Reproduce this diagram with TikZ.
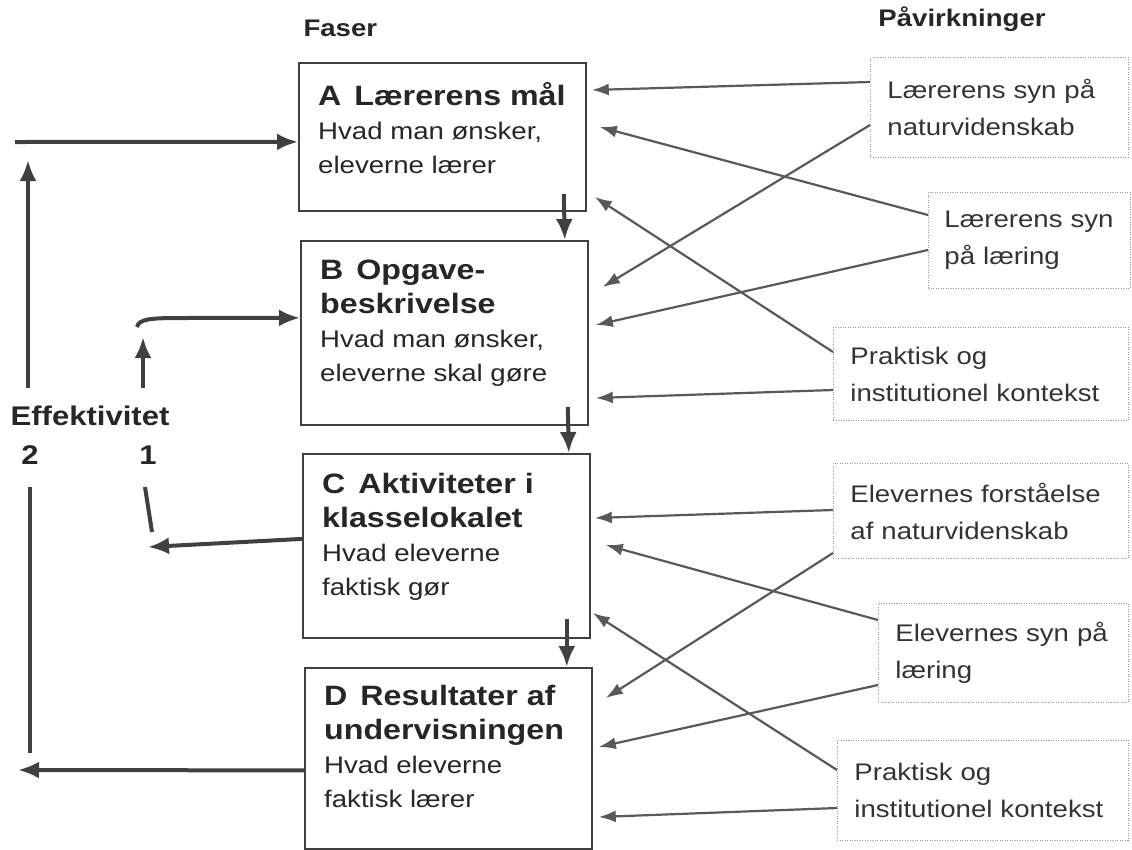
\documentclass[tikz,border=0pt]{standalone}
\usepackage{fontspec}
\setmainfont{Liberation Sans}[FakeStretch=1.15]
\usetikzlibrary{arrows.meta,calc}

\newcommand{\phb}[1]{{\fontsize{28}{34}\selectfont\bfseries #1}}

\begin{document}
\begin{tikzpicture}[x=1pt, y=-1pt,
    phase/.style={rectangle, draw=black!75, line width=1.8pt, anchor=north west, inner sep=0pt, minimum width=287pt},
    phtext/.style={anchor=north west, inner sep=0pt, align=left, font=\fontsize{24}{34}\selectfont, text=black!85},
    infl/.style={rectangle, draw=black!40, dash pattern=on 1pt off 1.5pt, line width=0.9pt, anchor=north west, inner xsep=17pt, inner ysep=0pt, align=left, font=\fontsize{24}{37}\selectfont, text=black!80},
    head/.style={font=\fontsize{24}{28}\selectfont\bfseries, text=black!85},
    flow/.style={-{Latex[length=21pt,width=17pt]}, line width=4pt, draw=black!75},
    link/.style={line width=4pt, draw=black!75},
    pull/.style={-{Latex[length=17pt,width=12pt]}, line width=2.2pt, draw=black!65}
]
\useasboundingbox (0,0) rectangle (1132,849);

\node[head, anchor=west] (faser) at (300,28) {Faser};
\node[head] (paav) at (962,19) {Påvirkninger};

\node[phase, minimum height=148pt] (A) at (298,62) {};
\node[phase, minimum height=184pt] (B) at (300,240) {};
\node[phase, minimum height=184pt] (C) at (302,453) {};
\node[phase, minimum height=181pt] (D) at (304,667) {};
\node[phtext] (Atext) at ($(A.north west)+(20,20)$) {\phb{A\hspace{13pt}Lærerens mål}\\ Hvad man ønsker,\\ eleverne lærer};
\node[phtext] (Btext) at ($(B.north west)+(20,20)$) {\phb{B\hspace{13pt}Opgave-}\\ \phb{beskrivelse}\\ Hvad man ønsker,\\ eleverne skal gøre};
\node[phtext] (Ctext) at ($(C.north west)+(20,20)$) {\phb{C\hspace{13pt}Aktiviteter i}\\ \phb{klasselokalet}\\ Hvad eleverne\\ faktisk gør};
\node[phtext] (Dtext) at ($(D.north west)+(20,18)$) {\phb{D\hspace{13pt}Resultater af}\\ \phb{undervisningen}\\ Hvad eleverne\\ faktisk lærer};

\node[infl, text width=224pt, minimum height=100pt] (r1) at (870,57) {Lærerens syn på\\ naturvidenskab};
\node[infl, text width=170pt, inner xsep=16pt, minimum height=96pt] (r2) at (928,192) {Lærerens syn\\ på læring};
\node[infl, text width=261pt, minimum height=93pt] (r3) at (833,327) {Praktisk og\\ institutionel kontekst};
\node[infl, text width=261pt, minimum height=95pt] (r4) at (833,463) {Elevernes forståelse\\ af naturvidenskab};
\node[infl, text width=216pt, minimum height=99pt] (r5) at (878,603) {Elevernes syn på\\ læring};
\node[infl, text width=257pt, minimum height=100pt] (r6) at (837,740) {Praktisk og\\ institutionel kontekst};

\node[font=\fontsize{27}{30}\selectfont\bfseries, text=black!85] (eff) at (90,416) {Effektivitet};
\node[font=\fontsize{27}{30}\selectfont\bfseries, text=black!85] (two) at (30,455) {2};
\node[font=\fontsize{27}{30}\selectfont\bfseries, text=black!85] (one) at (148,455) {1};

\coordinate (twoA) at (18,770);
\coordinate (twoB) at (30,753);
\coordinate (twoC) at (30,487);
\coordinate (twoD) at (28,388);
\coordinate (twoE) at (28,160);
\coordinate (twoF) at (15,142);
\coordinate (oneA) at (148,547);
\coordinate (oneB) at (152,532);
\coordinate (oneC) at (145,487);
\coordinate (oneD) at (143,388);
\coordinate (oneE) at (143,337);
\coordinate (oneF) at (137,327);
\coordinate (oneG) at (180,318);

\draw[flow] ($(A.south east)+(-23,-18)$) -- ($(B.north east)+(-24,0)$);
\draw[flow] ($(B.south east)+(-21,-19)$) -- ($(C.north east)+(-22,0)$);
\draw[flow] ($(C.south east)+(-24,-20)$) -- ($(D.north east)+(-26,0)$);

\draw[flow] ($(D.west)+(0,12)$) -- (twoA);
\draw[link] (twoB) -- (twoC);
\draw[flow] (twoD) -- (twoE);
\draw[flow] (twoF) -- ($(A.west)+(0,5)$);

\draw[flow] ($(C.west)+(0,-7)$) -- (oneA);
\draw[link] (oneB) -- (oneC);
\draw[flow] (oneD) -- (oneE);
\draw[flow] (oneF) .. controls (139,319) and (150,318) .. (oneG) -- ($(B.west)+(0,-15)$);

\draw[pull] ($(r1.north west)+(0,25)$) -- ($(A.north east)+(5,28)$);
\draw[pull] ($(r2.north west)+(0,23)$) -- ($(A.north east)+(13,65)$);
\draw[pull] ($(r1.north west)+(0,68)$) -- ($(B.north east)+(14,47)$);
\draw[pull] ($(r2.north west)+(0,58)$) -- ($(B.north east)+(7,85)$);
\draw[pull] ($(r3.north west)+(0,25)$) -- ($(A.north east)+(8,135)$);
\draw[pull] ($(r3.north west)+(0,63)$) -- ($(B.north east)+(7,158)$);
\draw[pull] ($(r4.north west)+(0,47)$) -- ($(C.north east)+(4,65)$);
\draw[pull] ($(r5.north west)+(0,17)$) -- ($(C.north east)+(15,92)$);
\draw[pull] ($(r4.north west)+(0,90)$) -- ($(D.north east)+(13,31)$);
\draw[pull] ($(r5.north west)+(0,82)$) -- ($(D.north east)+(6,80)$);
\draw[pull] ($(r6.north west)+(0,30)$) -- ($(C.north east)+(2,160)$);
\draw[pull] ($(r6.north west)+(0,68)$) -- ($(D.north east)+(6,150)$);
\end{tikzpicture}
\end{document}
